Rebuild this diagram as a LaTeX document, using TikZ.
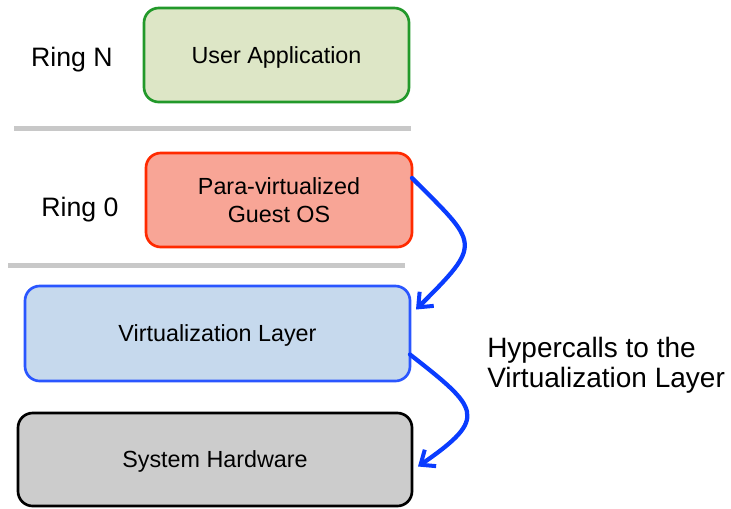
\documentclass[tikz,border=0pt]{standalone}
\usepackage{fontspec}
\setmainfont{Liberation Sans}
\usetikzlibrary{arrows.meta,calc}
\definecolor{gborder}{HTML}{22992A}
\definecolor{gfill}{HTML}{DDE6C6}
\definecolor{rborder}{HTML}{FF2A00}
\definecolor{rfill}{HTML}{F8A596}
\definecolor{bborder}{HTML}{2A56FF}
\definecolor{bfill}{HTML}{C6D9ED}
\definecolor{hwfill}{HTML}{CCCCCC}
\definecolor{sep}{HTML}{C8C8C8}
\definecolor{arr}{HTML}{0A3CFF}
\begin{document}
\begin{tikzpicture}[x=0.75pt,y=-0.75pt,
  layer/.style={draw,rounded corners=11pt,line width=2pt,outer sep=0pt,inner sep=2pt,
    align=center,text depth=0pt,font=\fontsize{17.5}{21}\selectfont},
  ringlabel/.style={text depth=0pt,inner sep=0pt,font=\fontsize{20}{24}\selectfont},
  sepline/.style={draw=sep,line width=3.75pt},
  hyper/.style={->,>={Straight Barb[length=9pt,width=15pt,line width=3pt]},draw=arr,line width=3.2pt,line cap=round}]
\useasboundingbox (0,0) rectangle (731,508);
\node[layer,draw=gborder,fill=gfill,minimum width=265*0.75pt,minimum height=94*0.75pt] (user) at (276.5,55) {User Application};
\node[layer,draw=rborder,fill=rfill,minimum width=266*0.75pt,minimum height=94*0.75pt] (guest) at (279,200) {Para-virtualized\\Guest OS};
\node[layer,draw=bborder,fill=bfill,minimum width=385*0.75pt,minimum height=95*0.75pt] (virt) at (217.5,333.5) {Virtualization Layer};
\node[layer,draw=black,fill=hwfill,minimum width=394*0.75pt,minimum height=93*0.75pt] (hw) at (215,459.5) {System Hardware};
\node[ringlabel] (ringn) at (72,56.5) {Ring N};
\node[ringlabel] (ring0) at (80,207) {Ring 0};
\node[anchor=west,align=left,inner sep=0pt,text depth=0pt,font=\fontsize{21}{22.5}\selectfont] (hc) at (487,362) {Hypercalls to the\\Virtualization Layer};
\coordinate (s1a) at (14,128); \coordinate (s1b) at (411,128);
\coordinate (s2a) at (8,265); \coordinate (s2b) at (405,265);
\draw[sepline] (s1a) -- (s1b);
\draw[sepline] (s2a) -- (s2b);
\draw[hyper] ($(guest.east)+(0,-22)$) .. controls +(67,67) and +(67,-67) .. ($(virt.east)+(6,-24)$);
\draw[hyper] ($(virt.east)+(0,21)$) .. controls +(69,54) and +(71,-49) .. ($(hw.east)+(6,7)$);
\end{tikzpicture}
\end{document}
